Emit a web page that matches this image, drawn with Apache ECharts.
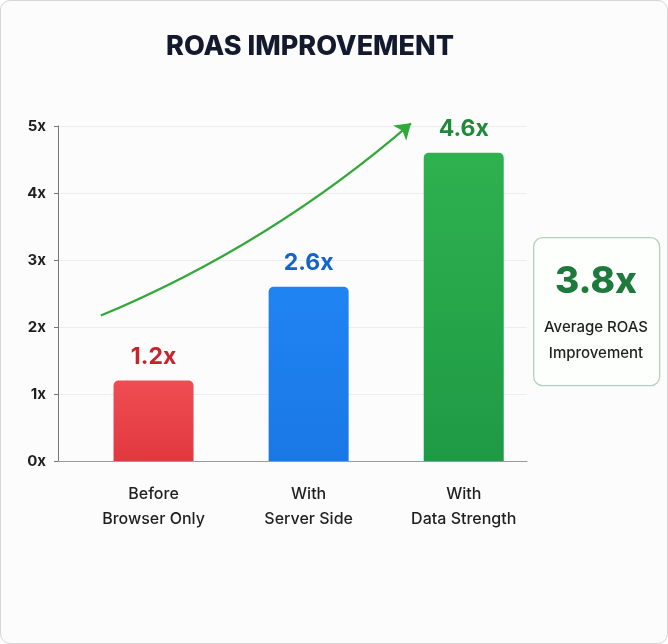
<!DOCTYPE html>
<html>
<head>
<meta charset="utf-8">
<script src="https://cdn.jsdelivr.net/npm/echarts@6/dist/echarts.min.js"></script>
<style>
  html, body { margin: 0; padding: 0; background: #ffffff; }
  #chart { width: 666px; height: 642px; border: 1px solid #d6d6d6; border-radius: 10px; background: #fcfcfc; }
</style>
</head>
<body>
<div id="chart"></div>
<script>
// ---- data ----
const categories = ['Before\nBrowser Only', 'With\nServer Side', 'With\nData Strength'];
const roasValues = [1.2, 2.6, 4.6];
const yTickValues = [0, 1, 2, 3, 4, 5];
const averageRoas = 3.8;
const summaryLines = ['Average ROAS', 'Improvement'];
const titleText = 'ROAS IMPROVEMENT';
// trend arrow, in data units (category index, ROAS)
const trendArrow = [[-0.34, 2.17], [1.66, 5.04]];

// ---- styles ----
const barTop = ['#ee4d53', '#1f84f2', '#2fb14f'];
const barBottom = ['#e2383f', '#1a78e6', '#1e9a45'];
const labelColors = ['#c8232b', '#1565c8', '#1e8a3a'];
const FONT = 'Inter, "Noto Sans", sans-serif';

const chart = echarts.init(document.getElementById('chart'));
chart.setOption({
  animation: false,
  title: {
    text: titleText,
    left: 304, top: 27, textAlign: 'center',
    textStyle: { fontFamily: FONT, fontSize: 27, fontWeight: 800, color: '#141a2e' }
  },
  grid: { left: 57, right: 140, top: 125, bottom: 182 },
  xAxis: {
    type: 'value', min: -0.616, max: 2.408,
    splitLine: { show: false },
    axisTick: { show: false },
    axisLine: { show: true, onZero: false, lineStyle: { color: '#9a9a9a', width: 1 } },
    axisLabel: {
      customValues: [0, 1, 2],
      formatter: v => categories[Math.round(v)],
      margin: 21, lineHeight: 25,
      fontFamily: FONT, fontSize: 16, fontWeight: 500, color: '#1f1f1f'
    }
  },
  yAxis: {
    type: 'value', min: 0, max: 5, interval: 1,
    axisLine: { show: true, onZero: false, lineStyle: { color: '#777', width: 1 } },
    axisTick: { show: true, length: 4, lineStyle: { color: '#777' } },
    splitLine: { show: true, lineStyle: { color: '#ededed', width: 1 } },
    axisLabel: {
      formatter: v => v + 'x', margin: 12,
      fontFamily: FONT, fontSize: 15, fontWeight: 700, color: '#1f1f1f'
    }
  },
  series: [
    {
      type: 'bar',
      barWidth: 80,
      data: roasValues.map((v, i) => ({
        value: [i, v],
        itemStyle: {
          color: new echarts.graphic.LinearGradient(0, 0, 0, 1, [
            { offset: 0, color: barTop[i] }, { offset: 1, color: barBottom[i] }
          ]),
          borderRadius: [5, 5, 0, 0]
        },
        label: { color: labelColors[i] }
      })),
      label: {
        show: true, position: 'top', distance: 12,
        formatter: p => p.value[1].toFixed(1) + 'x',
        fontFamily: FONT, fontSize: 23, fontWeight: 700
      },
      z: 3
    },
    {
      type: 'lines',
      coordinateSystem: 'cartesian2d',
      clip: false,
      symbol: ['none', 'arrow'],
      symbolSize: 15,
      lineStyle: { color: '#33a83a', width: 2.2, curveness: -0.08, opacity: 1 },
      data: [{ coords: trendArrow }],
      z: 4
    }
  ],
  graphic: [
    {
      type: 'rect', left: 532, top: 236, z: 10,
      shape: { width: 126, height: 148, r: 9 },
      style: { fill: '#fdfffd', stroke: '#b5d0bd', lineWidth: 1.3 }
    },
    {
      type: 'text', x: 595, y: 281, z: 11,
      style: {
        text: averageRoas.toFixed(1) + 'x',
        align: 'center', verticalAlign: 'middle',
        font: '800 37px ' + FONT, fill: '#1e7a3c'
      }
    },
    {
      type: 'text', x: 595, y: 313, z: 11,
      style: {
        text: summaryLines.join('\n'), lineHeight: 26,
        align: 'center', verticalAlign: 'top',
        font: '500 15px ' + FONT, fill: '#1f1f1f'
      }
    }
  ]
});
</script>
</body>
</html>
